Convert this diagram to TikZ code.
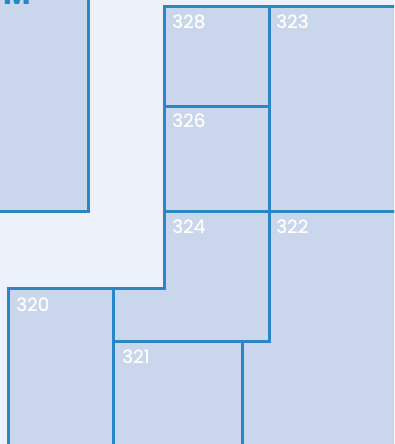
\documentclass[tikz,border=0pt]{standalone}
\usepackage{fontspec}
\setmainfont{Poppins}
\newfontfamily\numfont{Poppins}[FakeBold=0.5]
\usetikzlibrary{positioning}
\definecolor{wallblue}{HTML}{2B87C3}
\definecolor{roomfill}{HTML}{C9D6EC}
\definecolor{floorbg}{HTML}{EDF1FA}

\begin{document}
\begin{tikzpicture}[x=1pt, y=-1pt,
  room/.style={draw=wallblue, fill=roomfill, line width=3pt, line join=miter},
  roomnum/.style={text=white, font=\numfont\fontsize{18.5}{18.5}\selectfont, anchor=base west, inner sep=0pt}]
  \useasboundingbox (0,0) rectangle (394,444);
  \clip (0,0) rectangle (394,444);
  \fill[floorbg] (0,0) rectangle (394,444);

  % rooms
  \draw[room] (-10,-10) rectangle (88,211);
  \draw[room] (164,7) rectangle (269,106);
  \draw[room] (269,7) rectangle (404,211);
  \draw[room] (164,106) rectangle (269,211);
  \draw[room] (164,211) -- (269,211) -- (269,341) -- (113,341) -- (113,288) -- (164,288) -- cycle;
  \draw[room] (269,211) -- (404,211) -- (404,454) -- (242,454) -- (242,341) -- (269,341) -- cycle;
  \draw[room] (8,288) rectangle (113,454);
  \draw[room] (113,341) rectangle (242,454);

  % labels
  \node[text=wallblue, font=\bfseries\fontsize{30}{30}\selectfont, anchor=base east, inner sep=0pt] (bigroom) at (31,5) {M};
  \node[roomnum] (r328) at (172,28) {328};
  \node[roomnum] (r323) at (276,28) {323};
  \node[roomnum] (r326) at (172,127) {326};
  \node[roomnum] (r324) at (172,233) {324};
  \node[roomnum] (r322) at (276,233) {322};
  \node[roomnum] (r320) at (16,311) {320};
  \node[roomnum] (r321) at (122,363) {321};
\end{tikzpicture}
\end{document}
